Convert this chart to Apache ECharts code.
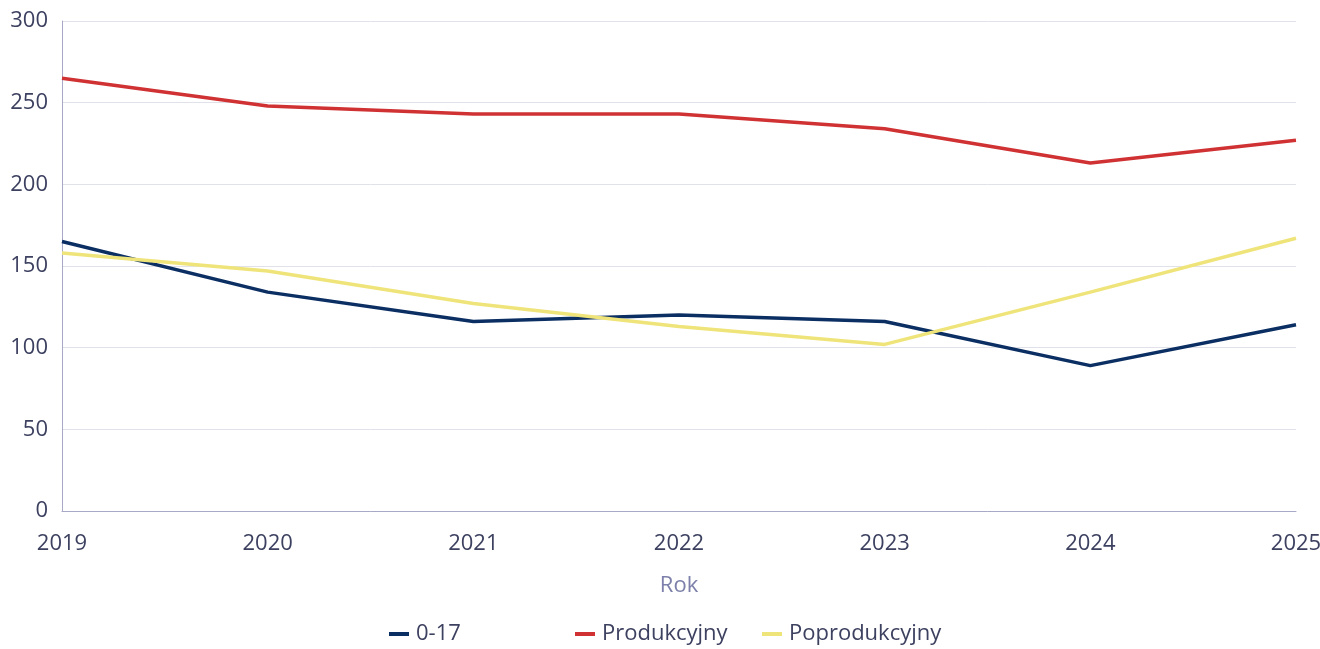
<!DOCTYPE html>
<html lang="pl">
<head>
    <meta charset="utf-8">
    <script src="https://cdn.jsdelivr.net/npm/echarts@6/dist/echarts.min.js"></script>
    <style>
        html, body { margin: 0; padding: 0; background: #fff; }
        #chart { width: 1320px; height: 649px; }
    </style>
</head>
<body>
<div id="chart"></div>
<script type="text/javascript">

// dane
var years = ['2019', '2020', '2021', '2022', '2023', '2024', '2025'];
var wiek017 = [165, 134, 116, 120, 116, 89, 114];
var produkcyjny = [265, 248, 243, 243, 234, 213, 227];
var poprodukcyjny = [158, 147, 127, 113, 102, 134, 167];
var seriesNames = ['0-17', 'Produkcyjny', 'Poprodukcyjny'];

var fontName = '"Open Sans", "Noto Sans", sans-serif';
var textColor = '#3d4160';

var chart = echarts.init(document.getElementById('chart'));

function lineSeries(name, data, color) {
    return {
        name: name,
        type: 'line',
        data: data,
        showSymbol: false,
        symbol: 'none',
        lineStyle: { color: color, width: 3.5 },
        itemStyle: { color: color }
    };
}

// legenda: każda pozycja osobno, stała szerokość kolumn
function legendItem(name, left) {
    return {
        top: 623,
        left: left,
        padding: 0,
        itemWidth: 20,
        itemHeight: 4,
        icon: 'rect',
        textStyle: { color: textColor, fontSize: 22, fontFamily: fontName, padding: [0, 0, 0, 2] },
        data: [name]
    };
}

chart.setOption({
    animation: false,
    textStyle: { fontFamily: fontName },
    grid: { left: 62, right: 24, top: 21, bottom: 138, outerBoundsMode: 'none', containLabel: false },
    legend: [
        legendItem(seriesNames[0], 389),
        legendItem(seriesNames[1], 575),
        legendItem(seriesNames[2], 762)
    ],
    xAxis: {
        type: 'category',
        data: years,
        boundaryGap: false,
        name: 'Rok',
        nameLocation: 'middle',
        nameGap: 64,
        nameTextStyle: { color: '#7c80aa', fontSize: 22 },
        axisLine: { lineStyle: { color: '#a8a9c6', width: 1 } },
        axisTick: { show: false },
        axisLabel: { color: textColor, fontSize: 22, margin: 22 },
        splitLine: { show: false }
    },
    yAxis: {
        type: 'value',
        min: 0,
        max: 300,
        interval: 50,
        axisLine: { show: true, lineStyle: { color: '#a8a9c6', width: 1 } },
        axisTick: { show: false },
        axisLabel: { color: textColor, fontSize: 22, margin: 14 },
        splitLine: { lineStyle: { color: '#e1e1ea', width: 1 } }
    },
    series: [
        lineSeries(seriesNames[0], wiek017, '#0b2f63'),
        lineSeries(seriesNames[1], produkcyjny, '#d03234'),
        lineSeries(seriesNames[2], poprodukcyjny, '#efe47a')
    ]
});

</script>
</body>
</html>
